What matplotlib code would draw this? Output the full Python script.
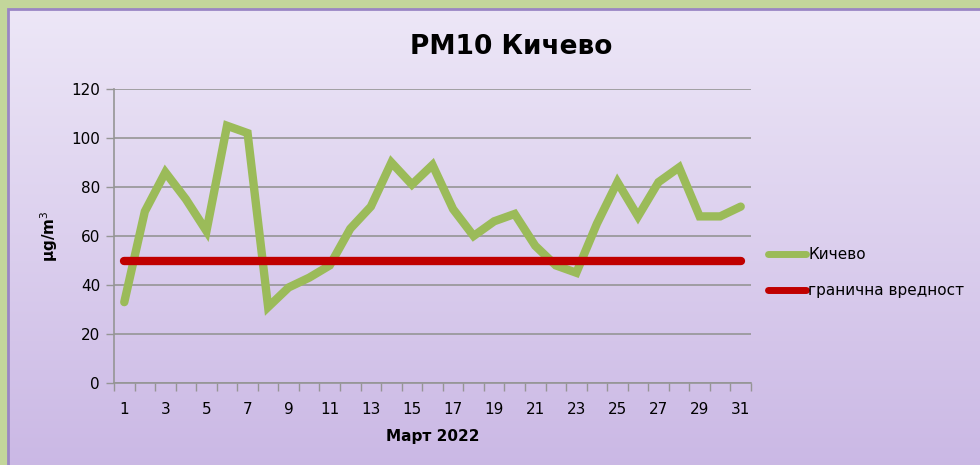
import numpy as np
import matplotlib
matplotlib.use("Agg")
import matplotlib.pyplot as plt
from matplotlib.patches import Rectangle

# Daily PM10 values for March 2022, Kičevo station
days = list(range(1, 32))
kicevo = [33, 70, 86, 75, 62, 105, 102, 31, 39, 43, 48, 63, 72, 90, 81,
          89, 71, 60, 66, 69, 56, 48, 45, 65, 82, 68, 82, 88, 68, 68, 72]
limit = [50] * len(days)

tick_days = list(range(1, 32, 2))
y_ticks = [0, 20, 40, 60, 80, 100, 120]

W, H = 980, 465
fig = plt.figure(figsize=(W / 100, H / 100), dpi=100)
fig.patch.set_facecolor("#c3d69b")

# gradient panel behind the chart (runs off the right and bottom edges)
bg = fig.add_axes([8 / W, -0.05, 1, 1.05 - 9 / H])
grad = np.linspace(0, 1, 256).reshape(-1, 1)
top = np.array([237, 231, 247]) / 255
bottom = np.array([201, 182, 228]) / 255
img = top + (bottom - top) * grad[..., None]
bg.imshow(img, aspect="auto", extent=[0, 1, 0, 1], origin="upper")
bg.add_patch(Rectangle((0, 0), 1, 1, fill=False, edgecolor="#9a86c4",
                       linewidth=2, transform=bg.transAxes, clip_on=False))
bg.set_axis_off()

ax = fig.add_axes([114 / W, 1 - 383 / H, (751 - 114) / W, (383 - 89) / H])
ax.set_facecolor("none")

ax.plot(days, kicevo, color="#9bbb59", linewidth=6, solid_joinstyle="miter",
        solid_capstyle="round", label="Кичево", zorder=3)
ax.plot(days, limit, color="#c00000", linewidth=6, solid_capstyle="round",
        label="гранична вредност", zorder=3)

ax.set_xlim(0.5, 31.5)
ax.set_ylim(0, 120)
ax.set_yticks(y_ticks)
ax.yaxis.grid(True, color="#959595", linewidth=1.2)
ax.set_axisbelow(True)

# category axis: tick marks between days, labels on odd days
ax.set_xticks(np.arange(0.5, 32, 1))
ax.set_xticklabels([])
ax.set_xticks(tick_days, minor=True)
ax.set_xticklabels([str(d) for d in tick_days], minor=True)
ax.tick_params(axis="x", which="major", length=6, color="#959595", width=1)
ax.tick_params(axis="x", which="minor", length=0, pad=14, labelsize=11)
ax.tick_params(axis="y", length=6, color="#959595", width=1, labelsize=11, pad=4)

for side in ["top", "right"]:
    ax.spines[side].set_visible(False)
for side in ["left", "bottom"]:
    ax.spines[side].set_color("#959595")
    ax.spines[side].set_linewidth(1.2)

ax.set_xlabel("Март 2022", fontsize=11, fontweight="bold", labelpad=8)
ax.set_ylabel("μg/m$^3$", fontsize=11, fontweight="bold", labelpad=8)

fig.text(511 / W, 1 - 47 / H, "PM10 Кичево", ha="center", va="center",
         fontsize=19, fontweight="bold")

leg = ax.legend(loc="upper left", bbox_to_anchor=(768 / W, 1 - 247 / H),
                bbox_transform=fig.transFigure, frameon=False, borderpad=0,
                borderaxespad=0, fontsize=11, handlelength=2.5,
                handletextpad=0.15, labelspacing=1.4)
for line in leg.get_lines():
    line.set_linewidth(5)

fig.savefig("out.png", dpi=100, facecolor=fig.get_facecolor())
